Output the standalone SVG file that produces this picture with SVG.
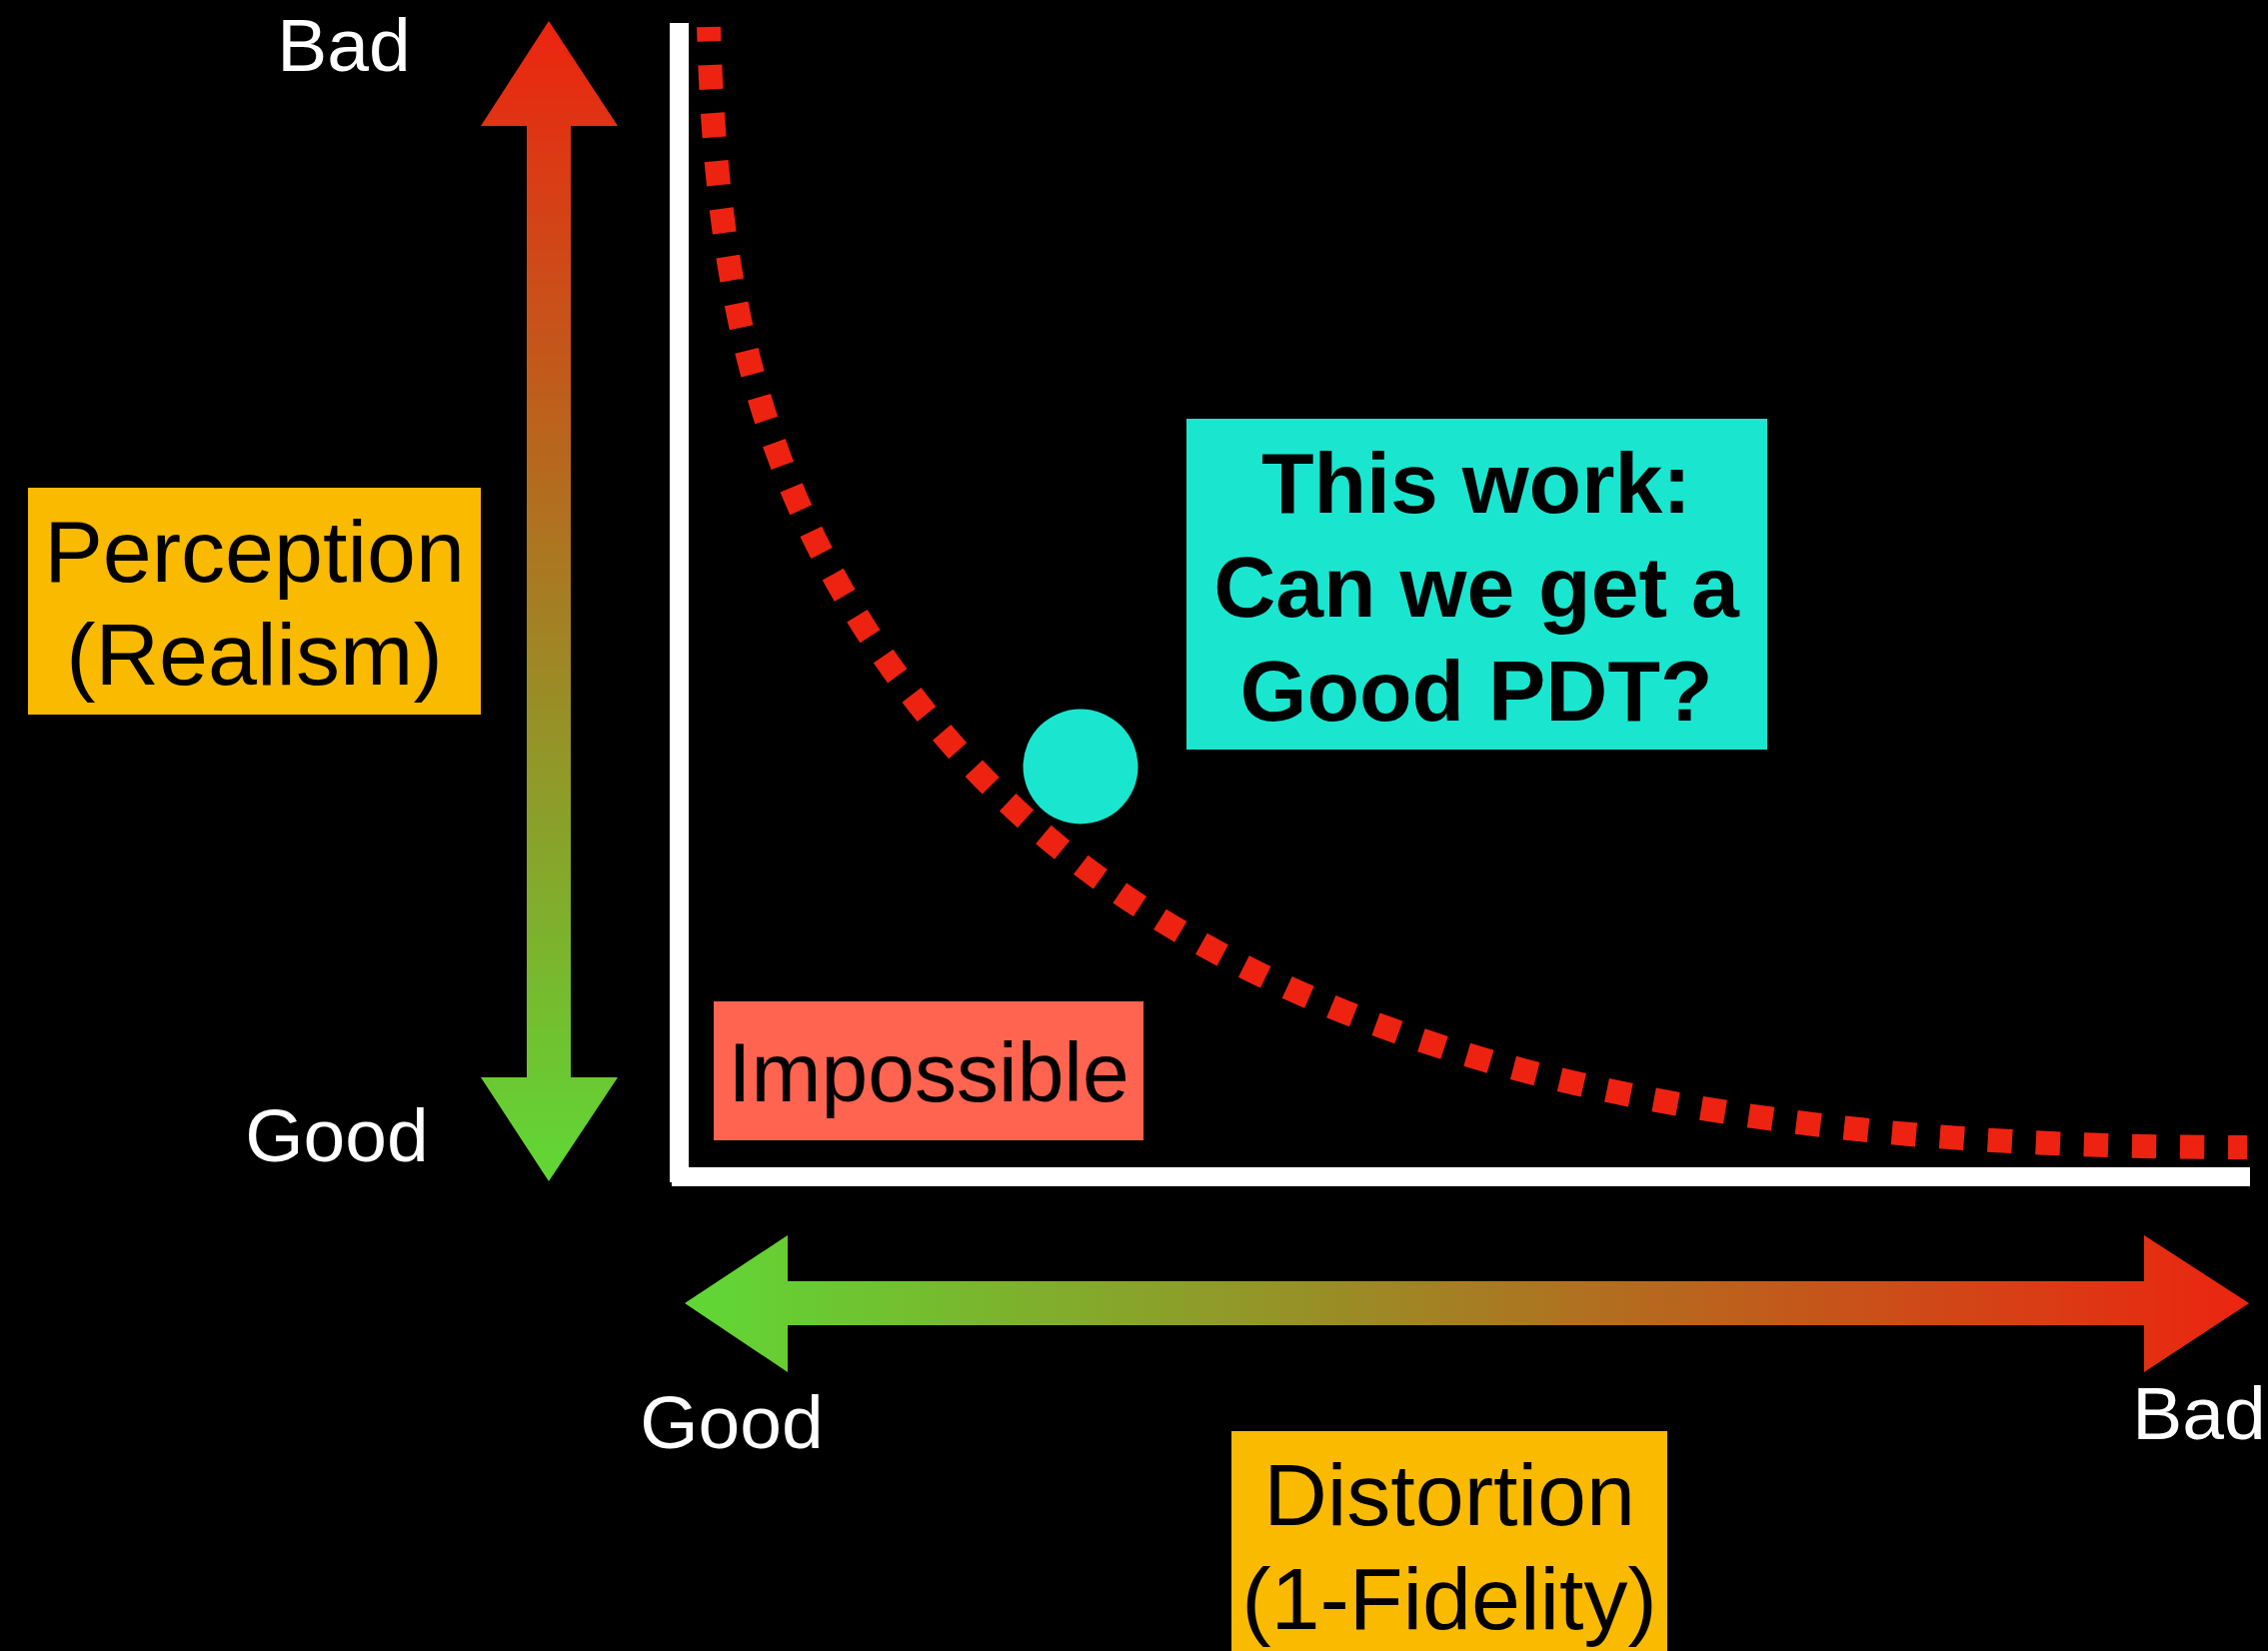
<svg xmlns="http://www.w3.org/2000/svg" width="2269" height="1652" viewBox="0 0 2269 1652">
  <defs>
    <linearGradient id="gradV" x1="0" y1="21" x2="0" y2="1182" gradientUnits="userSpaceOnUse">
      <stop offset="0" stop-color="#EC2410"/>
      <stop offset="1" stop-color="#5FD835"/>
    </linearGradient>
    <linearGradient id="gradH" x1="685" y1="0" x2="2250" y2="0" gradientUnits="userSpaceOnUse">
      <stop offset="0" stop-color="#5FD835"/>
      <stop offset="1" stop-color="#EC2410"/>
    </linearGradient>
    <style>
      .lbl { font-family: "Liberation Sans", Arial, Helvetica, sans-serif; fill: #ffffff; font-size: 75px; text-anchor: middle; }
      .boxtxt { font-family: "Liberation Sans", Arial, Helvetica, sans-serif; fill: #000000; font-size: 88px; text-anchor: middle; }
      .boldtxt { font-family: "Liberation Sans", Arial, Helvetica, sans-serif; fill: #000000; font-size: 86px; font-weight: bold; text-anchor: middle; }
      .axis { fill: #ffffff; }
      .yellow { fill: #F9BA00; }
      .cyan { fill: #1AE6D0; }
      .tomato { fill: #FF6450; }
      .frontier { fill: none; stroke: #EE2211; stroke-width: 24; stroke-dasharray: 24.3 23.8; stroke-dashoffset: 10; }
    </style>
  </defs>
  <rect x="0" y="0" width="2269" height="1652" fill="#000000"/>

  <g id="connectors">
    <polygon id="arrow-perception" fill="url(#gradV)" points="549,21 618,126 571,126 571,1078 618,1078 549,1182 481,1078 527,1078 527,126 481,126"/>
    <polygon id="arrow-distortion" fill="url(#gradH)" points="685,1304 788,1236 788,1282 2145,1282 2145,1236 2250,1304 2145,1373 2145,1326 788,1326 788,1373"/>
    <rect id="axis-y" class="axis" x="670" y="23" width="19" height="1160"/>
    <rect id="axis-x" class="axis" x="672" y="1168" width="1579" height="19"/>
    <path id="frontier" class="frontier" d="M709,27 C713,171 728,318 778,453 C832,601 930,740 1051,841 C1197,963 1383,1039 1568,1082 C1790,1134 2020,1148 2248,1148"/>
  </g>

  <g id="label-bad-top"><text class="lbl" x="344" y="71">Bad</text></g>
  <g id="label-good-left"><text class="lbl" x="337" y="1162">Good</text></g>
  <g id="label-good-bottom"><text class="lbl" x="732" y="1449">Good</text></g>
  <g id="label-bad-right"><text class="lbl" x="2200" y="1440">Bad</text></g>

  <g id="perception">
    <rect class="yellow" x="28" y="488" width="453" height="227"/>
    <text class="boxtxt" x="254.5" y="582">Perception</text>
    <text class="boxtxt" x="254.5" y="685">(Realism)</text>
  </g>

  <g id="distortion">
    <rect class="yellow" x="1232" y="1432" width="436" height="230"/>
    <text class="boxtxt" x="1450" y="1526">Distortion</text>
    <text class="boxtxt" x="1450" y="1630">(1-Fidelity)</text>
  </g>

  <g id="this-work">
    <rect class="cyan" x="1187" y="419" width="581" height="331"/>
    <text class="boldtxt" x="1477" y="513">This work:</text>
    <text class="boldtxt" x="1477" y="617">Can we get a</text>
    <text class="boldtxt" x="1477" y="721">Good PDT?</text>
  </g>

  <g id="good-pdt-point">
    <circle class="cyan" cx="1081" cy="767" r="57.5"/>
  </g>

  <g id="impossible">
    <rect class="tomato" x="714" y="1002" width="430" height="139"/>
    <text class="boxtxt" x="929" y="1102" style="font-size:84px">Impossible</text>
  </g>
</svg>
